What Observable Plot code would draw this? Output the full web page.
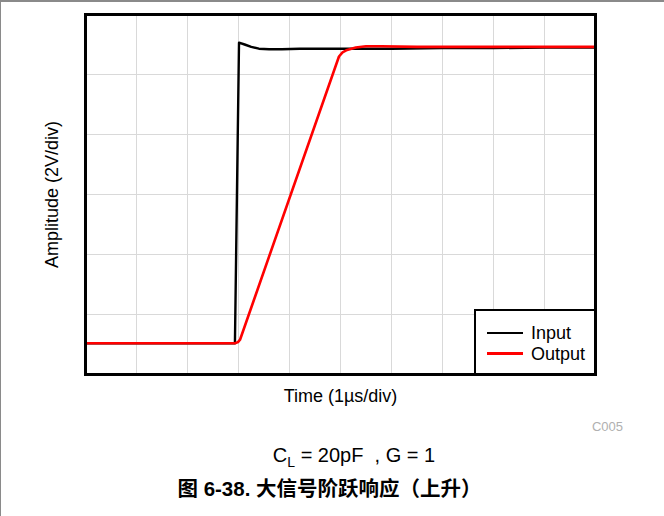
<!DOCTYPE html>
<html>
<head>
<meta charset="utf-8">
<script src="https://cdn.jsdelivr.net/npm/d3@7"></script>
<script src="https://cdn.jsdelivr.net/npm/@observablehq/plot@0.6"></script>
<style>
  body { margin: 0; background: #fff; }
  #wrap { position: relative; width: 664px; height: 516px; overflow: hidden; font-family: "Liberation Sans", Arial, sans-serif; color: #000; }
  #edge { position: absolute; left: 0; top: 0; width: 664px; height: 516px; box-sizing: border-box; border-top: 2px solid #8a8a8a; border-left: 1px solid #8a8a8a; pointer-events: none; }
  #chart { position: absolute; left: 0; top: 0; }
  .abs { position: absolute; white-space: nowrap; }
  #legend { position: absolute; left: 474px; top: 309px; width: 122px; height: 66px; box-sizing: border-box; border: 2px solid #000; background: #fff; }
  .lg-line { position: absolute; left: 11px; width: 36px; height: 2.5px; }
  .lg-text { position: absolute; left: 55px; font-size: 18px; line-height: 18px; }
</style>
</head>
<body>
<div id="wrap">
  <div id="chart"></div>
  <div id="legend"></div>
  <div id="code" class="abs"></div>
  <div id="cond" class="abs"></div>
  <div id="title" class="abs"></div>
  <div id="edge"></div>
</div>
<script>
// ---- data (x in µs, y in divisions of 2 V) ----
const inputT  = [0, 2.93, 3.01, 3.12, 3.25, 3.40, 3.60, 3.85, 4.20, 5.0, 6.0, 7.0, 8.0, 9.0, 10];
const inputV  = [0.52, 0.52, 5.53, 5.50, 5.46, 5.43, 5.42, 5.42, 5.43, 5.43, 5.43, 5.44, 5.44, 5.45, 5.45];
const outputT = [0, 2.93, 2.99, 3.03, 4.97, 5.04, 5.13, 5.30, 5.50, 5.80, 6.5, 8.0, 10];
const outputV = [0.52, 0.52, 0.54, 0.58, 5.30, 5.37, 5.41, 5.45, 5.47, 5.47, 5.46, 5.46, 5.46];
const xGrid = [1, 2, 3, 4, 5, 6, 7, 8, 9];
const yGrid = [1, 2, 3, 4, 5];
const seriesNames = ["Input", "Output"];
const seriesColors = ["#000000", "#ff0000"];
const xLabel = "Time (1µs/div)";
const yLabel = "Amplitude (2V/div)";
const codeLabel = "C005";
const condLabel = ["C", "L", " = 20pF\u00a0 , G = 1"];
const titleLabel = "图 6-38. 大信号阶跃响应（上升）";

const inputData = inputT.map((t, i) => ({t, v: inputV[i]}));
const outputData = outputT.map((t, i) => ({t, v: outputV[i]}));

const plot = Plot.plot({
  width: 664,
  height: 420,
  marginLeft: 85,
  marginRight: 69,
  marginTop: 14,
  marginBottom: 46,
  style: {fontFamily: "'Liberation Sans', Arial, sans-serif", fontSize: "18px", background: "transparent", color: "#000"},
  x: {domain: [0, 10], axis: null},
  y: {domain: [0, 6], axis: null},
  marks: [
    Plot.ruleX(xGrid, {stroke: "#d9d9d9", strokeWidth: 1}),
    Plot.ruleY(yGrid, {stroke: "#d9d9d9", strokeWidth: 1}),
    Plot.line(inputData, {x: "t", y: "v", stroke: seriesColors[0], strokeWidth: 2.4, strokeLinejoin: "round"}),
    Plot.line(outputData, {x: "t", y: "v", stroke: seriesColors[1], strokeWidth: 2.6, strokeLinejoin: "round"}),
    Plot.frame({stroke: "#000", strokeWidth: 3}),
    Plot.text([yLabel], {frameAnchor: "left", textAnchor: "middle", lineAnchor: "middle", dx: -33, rotate: -90, fontSize: 18, fill: "#000"}),
    Plot.text([xLabel], {frameAnchor: "bottom", dy: 27, fontSize: 18, fill: "#000"})
  ]
});
document.getElementById("chart").appendChild(plot);

// legend
const legend = document.getElementById("legend");
seriesNames.forEach((name, i) => {
  const ln = document.createElement("div");
  ln.className = "lg-line";
  ln.style.top = (20.5 + i * 20.5) + "px";
  ln.style.background = seriesColors[i];
  legend.appendChild(ln);
  const tx = document.createElement("div");
  tx.className = "lg-text";
  tx.style.top = (13 + i * 20.5) + "px";
  tx.textContent = name;
  legend.appendChild(tx);
});

// captions
const code = document.getElementById("code");
code.textContent = codeLabel;
Object.assign(code.style, {right: (664 - 623) + "px", top: "420px", fontSize: "13px", lineHeight: "13px", color: "#b0b0b0"});

const cond = document.getElementById("cond");
cond.innerHTML = condLabel[0] + '<span style="font-size:14px;position:relative;top:5px;">' + condLabel[1] + '</span>' + condLabel[2];
Object.assign(cond.style, {left: "0px", width: "708px", textAlign: "center", top: "445px", fontSize: "20px", lineHeight: "20px"});

const title = document.getElementById("title");
title.textContent = titleLabel;
Object.assign(title.style, {left: "0px", width: "659px", textAlign: "center", top: "478px", fontSize: "20.5px", lineHeight: "21px", fontWeight: "bold", fontFamily: "'Liberation Sans', Arial, 'Noto Sans CJK SC', sans-serif"});
</script>
</body>
</html>
